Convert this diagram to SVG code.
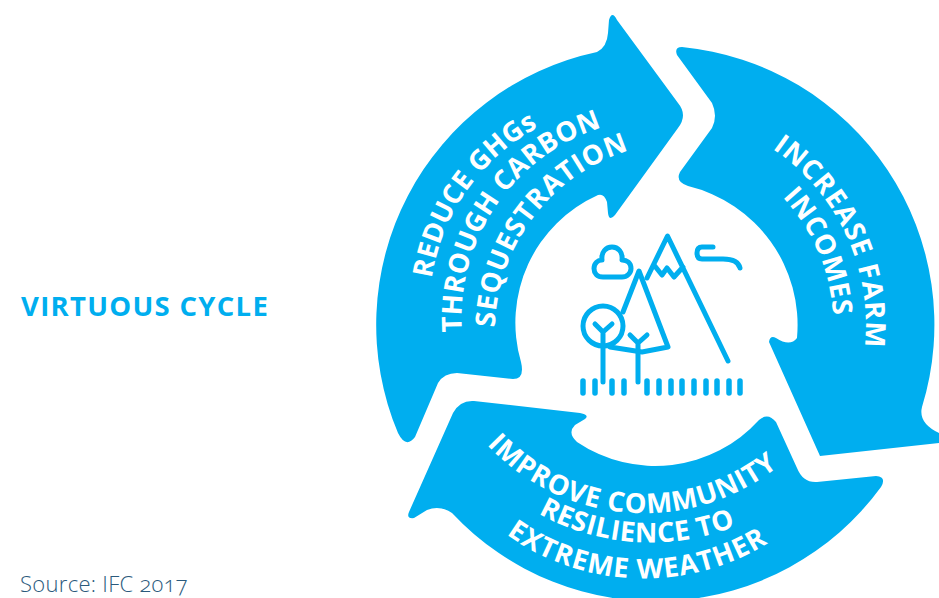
<svg xmlns="http://www.w3.org/2000/svg" width="939" height="598" viewBox="0 0 939 598">
<style>
.arrow{fill:#00aeef}
.lbl{font-family:"Open Sans","Liberation Sans",sans-serif;font-weight:700;font-size:27.5px;fill:#fff;text-anchor:middle}
.ic{fill:none;stroke:#00aeef;stroke-width:5;stroke-linecap:round;stroke-linejoin:round}
.tick{stroke-width:5.5}
</style>
<defs>
<path id="p1" d="M427.400 306.600L432 277A205 205 0 0 1 537 128L563.400 113.700"/>
<path id="p2" d="M464.200 362.900L462 333A200 200 0 0 1 603 127L631.700 118.200"/>
<path id="p3" d="M494 354.600L495 325A190 190 0 0 1 627 151L656.300 144.600"/>
<path id="p4" d="M752.600 134.600L777 152A212 212 0 0 1 865 342L862.500 371.900"/>
<path id="p5" d="M764.500 178.100L785 200A192 192 0 0 1 833 312L834.800 341.900"/>
<path id="p6" d="M468.200 425.300L489 447A215 215 0 0 0 776 468L799.700 449.600"/>
<path id="p7" d="M514.600 500.800L541 515A230 230 0 0 0 733 527L761 516.200"/>
<path id="p8" d="M482.600 517.600L507 535A236 236 0 0 0 768 543L793.500 527.200"/>
</defs>
<rect width="939" height="598" fill="#fff"/>
<g id="title"><text x="21" y="316" font-family="'Open Sans','Liberation Sans',sans-serif" font-weight="700" font-size="27.500" letter-spacing="1.300" fill="#00aeef">VIRTUOUS CYCLE</text></g>
<g id="source"><text x="20" y="592" font-family="'Open Sans','Liberation Sans',sans-serif" font-weight="300" font-size="22" letter-spacing="0.3" fill="#2b5a7c" style="font-variant-numeric:oldstyle-nums">Source: IFC 2017</text></g>
<g id="connectors">
<path class="arrow" d="M398 433A279 279 0 0 1 597 52Q607 47 608 33L609 20Q612 10 617 20L678 103Q688 115 678 128L615 215Q609 222 608 213L607 202Q604 193 598 195A140 140 0 0 0 521 362Q525 379 513 379L457 373Q444 373 438 383L415 437Q406 449 398 433Z"/>
<path class="arrow" d="M677 55Q674 47 682 47A279 279 0 0 1 922 407Q918 423 939 433V443L820 456L769 342Q770 335 776 338Q790 347 797 338A143 143 0 0 0 688 186Q675 182 680 172L712 128Q718 116 712 103Z"/>
<path class="arrow" d="M474 401L580 413Q590 415 585 419L575 425Q567 433 577 442A140 140 0 0 0 759 420Q768 412 776 422L797 468Q803 483 817 482L876 476Q887 477 881 487A279 279 0 0 1 452 513Q440 505 427 510L414 518Q406 519 409 512L453 413Q460 400 474 401Z"/>
</g>
<g id="node-reduce"><text class="lbl" letter-spacing="0.2"><textPath href="#p1" startOffset="50%">REDUCE GHGs</textPath></text><text class="lbl" letter-spacing="0.3"><textPath href="#p2" startOffset="50%">THROUGH CARBON</textPath></text><text class="lbl" letter-spacing="0.9"><textPath href="#p3" startOffset="50%">SEQUESTRATION</textPath></text></g>
<g id="node-income"><text class="lbl" letter-spacing="1"><textPath href="#p4" startOffset="50%">INCREASE FARM</textPath></text><text class="lbl" letter-spacing="0.6"><textPath href="#p5" startOffset="50%">INCOMES</textPath></text></g>
<g id="node-resilience"><text class="lbl" letter-spacing="0.7"><textPath href="#p6" startOffset="50%">IMPROVE COMMUNITY</textPath></text><text class="lbl" letter-spacing="0.5"><textPath href="#p7" startOffset="50%">RESILIENCE TO</textPath></text><text class="lbl" letter-spacing="1"><textPath href="#p8" startOffset="50%">EXTREME WEATHER</textPath></text></g>
<g id="node-icon" class="ic">
<path d="M603 277C597 277 594 273 594 268.500C594 263 598 260 602 260C601 252 606 247 612 247C618 247 623 252 622 260C627 260 631 263 631 268.500C631 273 627 277 622 277Z"/>
<path d="M647 278L667.500 236L728 361M654 265L662 275L667 268L674 277L683 267"/>
<path d="M623 312L639 271L668 347L642 352L610 347"/>
<circle cx="603" cy="326" r="20"/>
<path d="M603 382V332M595 324L603 332L612 324M638 382V343M630 335L638 343L647 335"/>
<path d="M713 247H702Q697 247 697 253Q697 259 702 259H723Q738 259 740 268"/>
<path class="tick" d="M583 381V393M595 381V393M612 381V393M624 381V393M647 381V393M659 381V393M671 381V393M682 381V393M694 381V393M706 381V393M717 381V393M729 381V393M740 381V393"/>
</g>
</svg>
